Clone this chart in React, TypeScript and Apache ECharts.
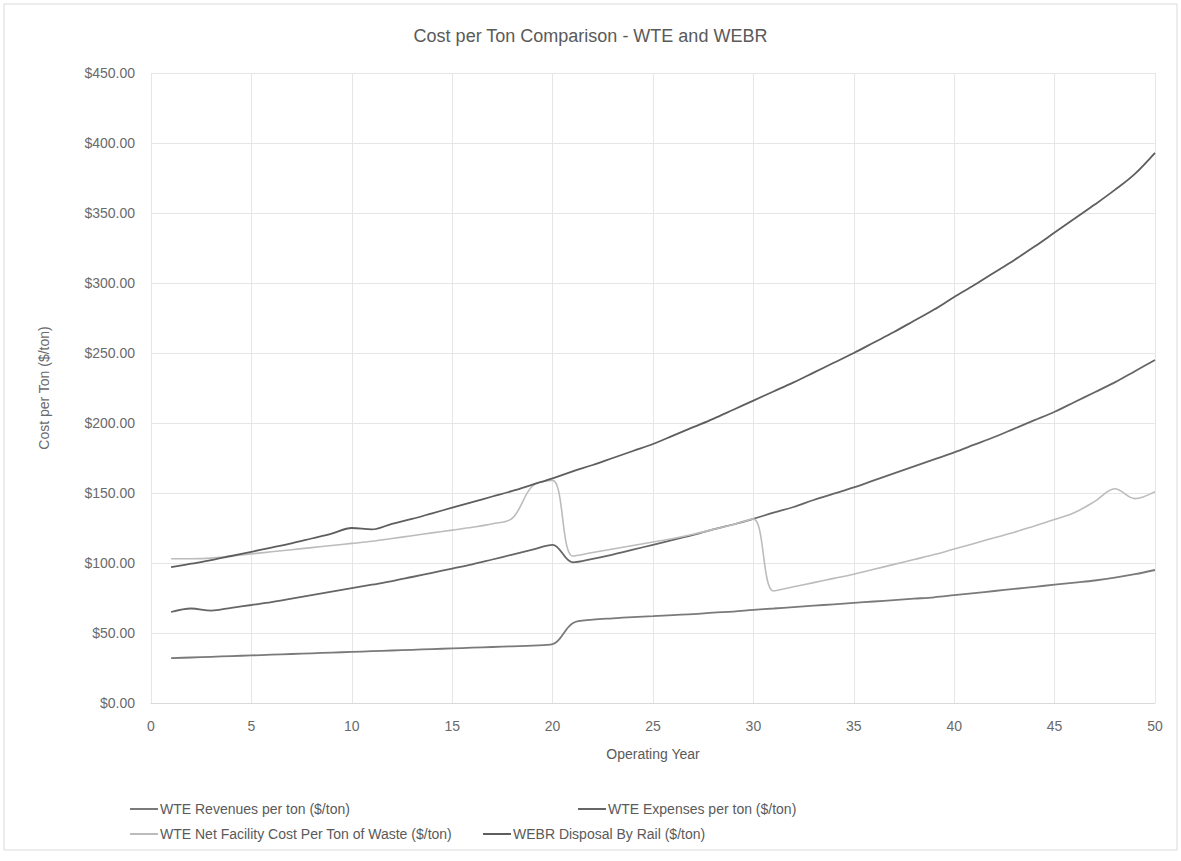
import React, { useEffect, useRef } from "react";
import * as echarts from "echarts";

const years = [1,2,3,4,5,6,7,8,9,10,11,12,13,14,15,16,17,18,19,20,21,22,23,24,25,26,27,28,29,30,31,32,33,34,35,36,37,38,39,40,41,42,43,44,45,46,47,48,49,50];

// top dark curve
const webrRail = [97,99.5,102,105,108,111,114,117.5,121,125,124,128,131.5,135.5,139.5,143.5,147.5,151.5,156,160.5,165.5,170,175,180,185,191,197,203,209.5,216,222.5,229,236,243,250,257.5,265,273,281,290,298.5,307.5,316.5,326,336,346,356,366.5,378,393];
// middle dark curve
const wteExpenses = [65,67.5,66,68,70,72,74.5,77,79.5,82,84.5,87,90,93,96,99,102.5,106,109.5,113,100.5,103,106,109.5,113,116.5,120,124,127.5,131.5,136,140,145,149.5,154,159,164,169,174,179,184.5,190,196,202,208,215,222,229,237,245];
// light gray curve
const wteNet = [103,103,103.5,105,106.5,108,109.5,111,112.5,114,115.5,117.5,119.5,121.5,123.5,125.5,128,132,155,159,105,107.5,110,112.5,115,117.5,120.5,124,127.5,131.5,80,83,86,89,92,95.5,99,102.5,106,110,114,118,122,126.5,131,136,144,153,146,151];
// bottom dark curve
const wteRevenues = [32,32.5,33,33.5,34,34.5,35,35.5,36,36.5,37,37.5,38,38.5,39,39.5,40,40.5,41,42,57,59.5,60.5,61.3,62,62.8,63.5,64.5,65.3,66.5,67.5,68.5,69.5,70.5,71.5,72.5,73.5,74.5,75.5,77,78.5,80,81.5,83,84.5,86,87.5,89.5,92,95];

const seriesNames = [
  "WTE Revenues per ton ($/ton)",
  "WTE Expenses per ton ($/ton)",
  "WTE Net Facility Cost Per Ton of Waste ($/ton)",
  "WEBR Disposal By Rail ($/ton)",
];

const colors = ["#7a7a7a", "#666666", "#bcbcbc", "#5e5e5e"];

export default function App() {
  const ref = useRef<HTMLDivElement>(null);
  useEffect(() => {
    if (!ref.current) return;
    const chart = echarts.init(ref.current, null, { renderer: "svg" });
    const values = [wteRevenues, wteExpenses, wteNet, webrRail];
    const font = "Liberation Sans, Arial, sans-serif";
    const legendPos = [
      { left: 125, top: 797 },
      { left: 573, top: 797 },
      { left: 125, top: 822 },
      { left: 478, top: 822 },
    ];
    chart.setOption({
      animation: false,
      backgroundColor: "#ffffff",
      textStyle: { fontFamily: font },
      title: {
        text: "Cost per Ton Comparison - WTE and WEBR",
        left: "center",
        top: 22,
        textStyle: { fontSize: 18, fontWeight: "normal", color: "#5a5a5a", fontFamily: font },
      },
      graphic: [
        {
          type: "rect",
          shape: { x: 4, y: 4, width: 1173, height: 846 },
          style: { fill: "none", stroke: "#d9d9d9", lineWidth: 1 },
          silent: true,
        },
      ],
      legend: seriesNames.map((n, i) => ({
        data: [n],
        left: legendPos[i].left,
        top: legendPos[i].top,
        icon: "rect",
        itemWidth: 28,
        itemHeight: 2,
        itemGap: 4,
        textStyle: { fontSize: 14, color: "#5a5a5a", fontFamily: font, padding: [0, 0, 0, -3] },
      })),
      grid: { left: 151, right: 26, top: 73, bottom: 158 },
      xAxis: {
        type: "value",
        min: 0,
        max: 50,
        interval: 5,
        name: "Operating Year",
        nameLocation: "middle",
        nameGap: 44,
        nameTextStyle: { fontSize: 14, color: "#5a5a5a" },
        axisLine: { show: true, lineStyle: { color: "#d9d9d9" } },
        axisTick: { show: false },
        axisLabel: { fontSize: 14, color: "#6a6a6a", margin: 16 },
        splitLine: { show: true, lineStyle: { color: "#e6e6e6" } },
      },
      yAxis: {
        type: "value",
        min: 0,
        max: 450,
        interval: 50,
        name: "Cost per Ton ($/ton)",
        nameLocation: "middle",
        nameGap: 100,
        nameTextStyle: { fontSize: 14, color: "#6a6a6a" },
        axisLine: { show: false },
        axisTick: { show: false },
        axisLabel: {
          fontSize: 14,
          color: "#6a6a6a",
          margin: 16,
          formatter: (v: number) => "$" + v.toFixed(2),
        },
        splitLine: { show: true, lineStyle: { color: "#e6e6e6" } },
      },
      series: seriesNames.map((n, i) => ({
        name: n,
        type: "line",
        smooth: 0.35,
        symbol: "none",
        showSymbol: false,
        data: years.map((y, k) => [y, values[i][k]]),
        lineStyle: { color: colors[i], width: i === 2 ? 1.6 : 1.8 },
        itemStyle: { color: colors[i] },
      })),
    });
    return () => chart.dispose();
  }, []);
  return (
    <div
      ref={ref}
      style={{ position: "absolute", left: 0, top: 0, width: 1181, height: 861 }}
    />
  );
}
